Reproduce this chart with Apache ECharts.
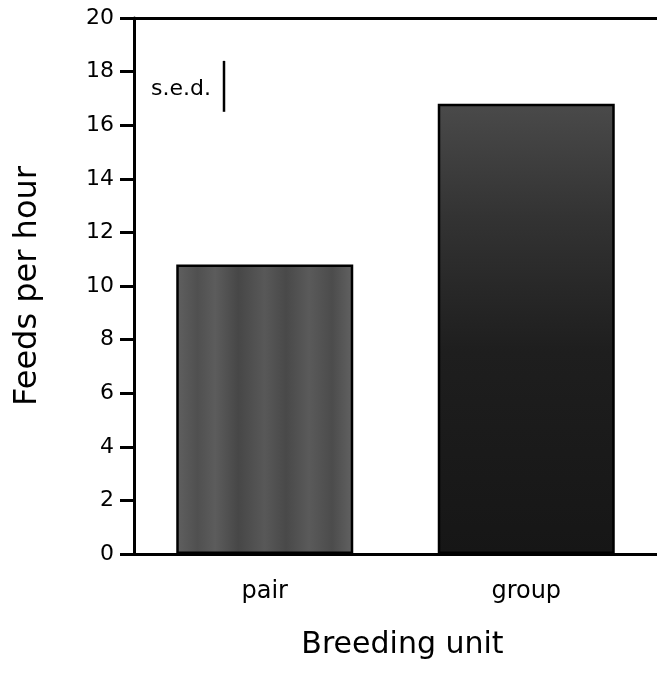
<!DOCTYPE html>
<html><head><meta charset="utf-8">
<script src="https://cdn.jsdelivr.net/npm/echarts@6/dist/echarts.min.js"></script>
<style>html,body{margin:0;padding:0;background:#fff}#c{width:657px;height:673px}</style>
</head><body><div id="c"></div>
<script>
const categories = ['pair', 'group'];
const feedsPerHour = [10.8, 16.8];
const yTicks = [0, 2, 4, 6, 8, 10, 12, 14, 16, 18, 20];
const sedTop = 18.4;
const sedValue = 1.9;

const FONT = '"DejaVu Sans", Verdana, sans-serif';
const chart = echarts.init(document.getElementById('c'), null, {renderer: 'canvas'});
const barColors = [
  new echarts.graphic.LinearGradient(0, 0, 1, 0, [
    {offset: 0, color: '#606060'}, {offset: 0.12, color: '#505050'}, {offset: 0.22, color: '#5c5c5c'},
    {offset: 0.35, color: '#474747'}, {offset: 0.5, color: '#585858'}, {offset: 0.62, color: '#494949'},
    {offset: 0.75, color: '#5a5a5a'}, {offset: 0.88, color: '#4c4c4c'}, {offset: 1, color: '#626262'}]),
  new echarts.graphic.LinearGradient(0, 0, 0, 1, [
    {offset: 0, color: '#4a4a4a'}, {offset: 0.25, color: '#333333'}, {offset: 0.55, color: '#1e1e1e'},
    {offset: 1, color: '#161616'}])
];
chart.setOption({
  animation: false,
  grid: {left: 134, top: 18, width: 528, height: 536},
  xAxis: [{
    type: 'category', data: categories, position: 'bottom',
    axisLine: {lineStyle: {color: '#000', width: 3}},
    axisTick: {alignWithLabel: true, length: 14, lineStyle: {color: '#000', width: 3}},
    axisLabel: {color: '#000', fontSize: 24, fontFamily: FONT, margin: 26},
    name: 'Breeding unit', nameLocation: 'middle', nameGap: 76,
    nameTextStyle: {color: '#000', fontSize: 30, fontFamily: FONT, padding: [0, 0, 0, 14]}
  }, {
    type: 'category', data: categories, position: 'top',
    axisLine: {lineStyle: {color: '#000', width: 3}},
    axisTick: {show: false}, axisLabel: {show: false}
  }],
  yAxis: {
    type: 'value', min: 0, max: 20, interval: 2,
    axisLine: {show: true, lineStyle: {color: '#000', width: 3}},
    axisTick: {show: true, length: 14, lineStyle: {color: '#000', width: 3}},
    splitLine: {show: false},
    axisLabel: {color: '#000', fontSize: 22, fontFamily: FONT, margin: 20,
      formatter: v => yTicks.includes(v) ? String(v) : ''},
    name: 'Feeds per hour', nameLocation: 'middle', nameGap: 90,
    nameTextStyle: {color: '#000', fontSize: 32, fontFamily: FONT}
  },
  series: [{
    type: 'bar', barWidth: 177,
    data: feedsPerHour.map((v, i) => ({value: v, itemStyle: {color: barColors[i]}})),
    itemStyle: {borderColor: '#000', borderWidth: 2.5}
  }]
});
const yTop = chart.convertToPixel({yAxisIndex: 0}, sedTop);
const yBot = chart.convertToPixel({yAxisIndex: 0}, sedTop - sedValue);
chart.setOption({
  graphic: [
    {type: 'line', shape: {x1: 224, y1: yTop, x2: 224, y2: yBot}, style: {stroke: '#000', lineWidth: 2.5}},
    {type: 'text', x: 211, y: (yTop + yBot) / 2 + 3,
     style: {text: 's.e.d.', fill: '#000', font: '22px ' + FONT, textAlign: 'right', textVerticalAlign: 'middle'}}
  ]
});
</script></body></html>
